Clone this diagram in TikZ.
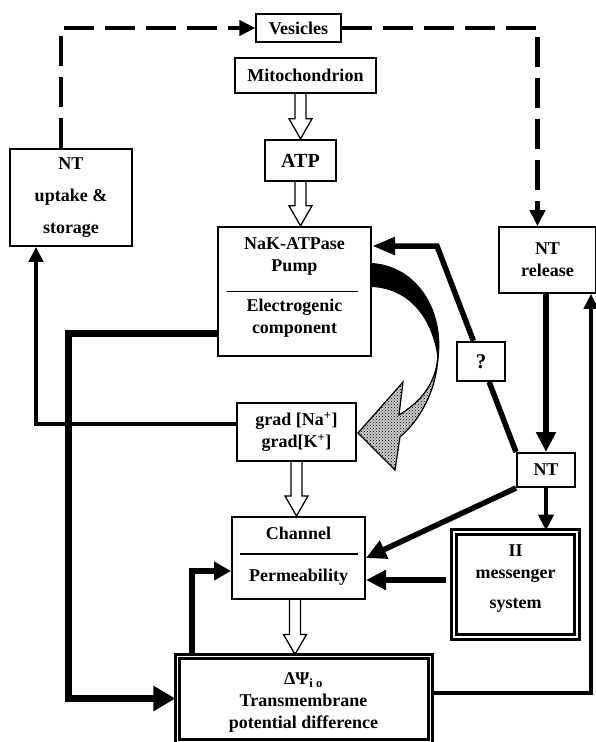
\documentclass[tikz,border=0pt]{standalone}
\usepackage{fontspec}
\setmainfont{Liberation Serif}
\usetikzlibrary{arrows.meta,patterns}

\newcommand{\hollowarrow}[2]{%
\draw[hollow] ([xshift=-5.5pt]#1) -- ([xshift=-5.5pt,yshift=20pt]#2) -- ([xshift=-11.5pt,yshift=20pt]#2) -- (#2) -- ([xshift=11.5pt,yshift=20pt]#2) -- ([xshift=5.5pt,yshift=20pt]#2) -- ([xshift=5.5pt]#1);}

\begin{document}
\begin{tikzpicture}[x=1pt,y=-1pt,
  every node/.style={font=\bfseries\fontsize{18}{22}\selectfont, align=center, inner sep=0pt},
  box/.style={draw, fill=white, line width=1.6pt},
  heavybox/.style={box, line width=2.4pt},
  framed/.style={draw, fill=white, double, line width=3pt},
  hollow/.style={draw, line width=1.3pt, fill=white},
  dashline/.style={line width=4.5pt, dash pattern=on 30pt off 11pt, -{Triangle[length=16pt,width=15pt]}},
  link/.style={line width=5.5pt, -{Triangle[length=20pt,width=19pt]}},
  thinlink/.style={line width=4pt, -{Triangle[length=15pt,width=14pt]}}]
\useasboundingbox (0,0) rectangle (596,742);

\node[box, line width=1.2pt, minimum width=85pt, minimum height=28pt] (vesicles) at (298.5,28) {Vesicles};
\node[heavybox, minimum width=141pt, minimum height=35pt] (mito) at (305.5,75.5) {Mitochondrion};
\node[heavybox, minimum width=71pt, minimum height=41pt, font=\bfseries\fontsize{20}{24}\selectfont] (atp) at (300.5,160.5) {ATP};
\node[box, minimum width=122pt, minimum height=97pt, font=\bfseries\fontsize{18}{32}\selectfont] (uptake) at (71,197.5) {NT\\uptake \&\\storage};

\node[heavybox, minimum width=153pt, minimum height=129pt] (nak) at (294.5,291.5) {};
\node (naktop) at ([yshift=35.5pt]nak.center) {NaK-ATPase\\Pump};
\node (nakbot) at ([yshift=-27pt]nak.center) {Electrogenic\\component};
\draw[line width=1.5pt] ([xshift=10pt]nak.west) -- ([xshift=-14pt]nak.east);

\node[box, minimum width=97pt, minimum height=66pt] (release) at (547.5,260) {NT\\release};
\node[box, line width=2pt, minimum width=119pt, minimum height=58pt] (grad) at (296.5,432) {grad [Na\textsuperscript{+}]\\grad[K\textsuperscript{+}]};
\node[box, line width=2pt, minimum width=58pt, minimum height=34pt] (nt) at (546,470) {NT};

\node[box, line width=2pt, minimum width=133pt, minimum height=82pt] (channel) at (298.5,558) {};
\node (chantop) at ([yshift=25pt]channel.center) {Channel};
\node (chanbot) at ([yshift=-19pt]channel.center) {Permeability};
\draw[line width=1.5pt] ([xshift=9pt,yshift=4pt]channel.west) -- ([xshift=-8pt,yshift=4pt]channel.east);

\node[framed, double distance=1.2pt, minimum width=123pt, minimum height=105pt] (msg) at (515.5,584.5) {};
\node (msgtxt) at ([yshift=5.5pt]msg.center) {II\\messenger\\[8pt]system};

\node[framed, double distance=0.6pt, line width=3.2pt, minimum width=253pt, minimum height=85pt] (dpsi) at (303.5,698.5) {};
\node (dpsitxt) at ([yshift=-4pt]dpsi.center) {ΔΨ\textsubscript{i o}\\Transmembrane\\potential difference};

\draw[dashline] ([xshift=-10pt]uptake.north) |- (vesicles.west);
\draw[dashline] (vesicles.east) -| ([xshift=-10pt]release.north);

\coordinate (bend) at (437,246);
\path (nt.north west) -- (bend) node[box, line width=2pt, pos=0.44, minimum width=48pt, minimum height=39pt, font=\bfseries\fontsize{21}{24}\selectfont] (qbox) {?};
\draw[line width=5.5pt] (nt.north west) -- (qbox);
\draw[link, -{Triangle[length=23pt,width=17pt]}] (qbox) -- (bend) -- (bend -| nak.east);

\draw[link] (nt.north |- release.south) -- (nt.north);
\draw[link, line width=4.5pt, -{Triangle[length=16pt,width=15pt]}] (nt.south) -- (nt.south |- msg.north);
\draw[link] (nt.south west) -- (channel.east);
\coordinate (msgout) at ([xshift=-7pt,yshift=4.5pt]msg.west);
\draw[link] (msgout) -- (msgout -| channel.east);

\draw[link, line width=7pt, -{Triangle[length=22pt,width=24pt]}] ([yshift=-41.5pt]nak.west) -- ++(-148,0) |- (dpsi.west);
\draw[link, -{Triangle[length=17pt,width=18pt]}] ([xshift=-111.5pt]dpsi.north) |- ([yshift=-13pt]channel.west);
\draw[thinlink] ([yshift=5.5pt]dpsi.east) -| ([xshift=43.5pt]release.south);
\draw[thinlink] ([yshift=8pt]grad.west) -| ([xshift=-35pt]uptake.south);

\coordinate (h1a) at (atp.north |- mito.south);
\hollowarrow{h1a}{atp.north}
\coordinate (h2b) at (atp.south |- nak.north);
\hollowarrow{atp.south}{h2b}
\coordinate (h3b) at (grad.south |- channel.north);
\hollowarrow{grad.south}{h3b}
\coordinate (h4a) at ([xshift=-3.5pt]channel.south);
\coordinate (h4b) at (h4a |- dpsi.north);
\hollowarrow{h4a}{h4b}

\fill (372,263) .. controls (418,266) and (446,312) .. (438,362) .. controls (434,322) and (412,289) .. (372,287) -- cycle;
\draw[line width=1.2pt, preaction={fill=gray!40}, pattern=crosshatch dots] (438,355) .. controls (437,390) and (420,420) .. (400,437) -- (395,470) -- (358,433) -- (403,382) -- (399,415) .. controls (420,402) and (436,385) .. (438,355) -- cycle;

\end{tikzpicture}
\end{document}
